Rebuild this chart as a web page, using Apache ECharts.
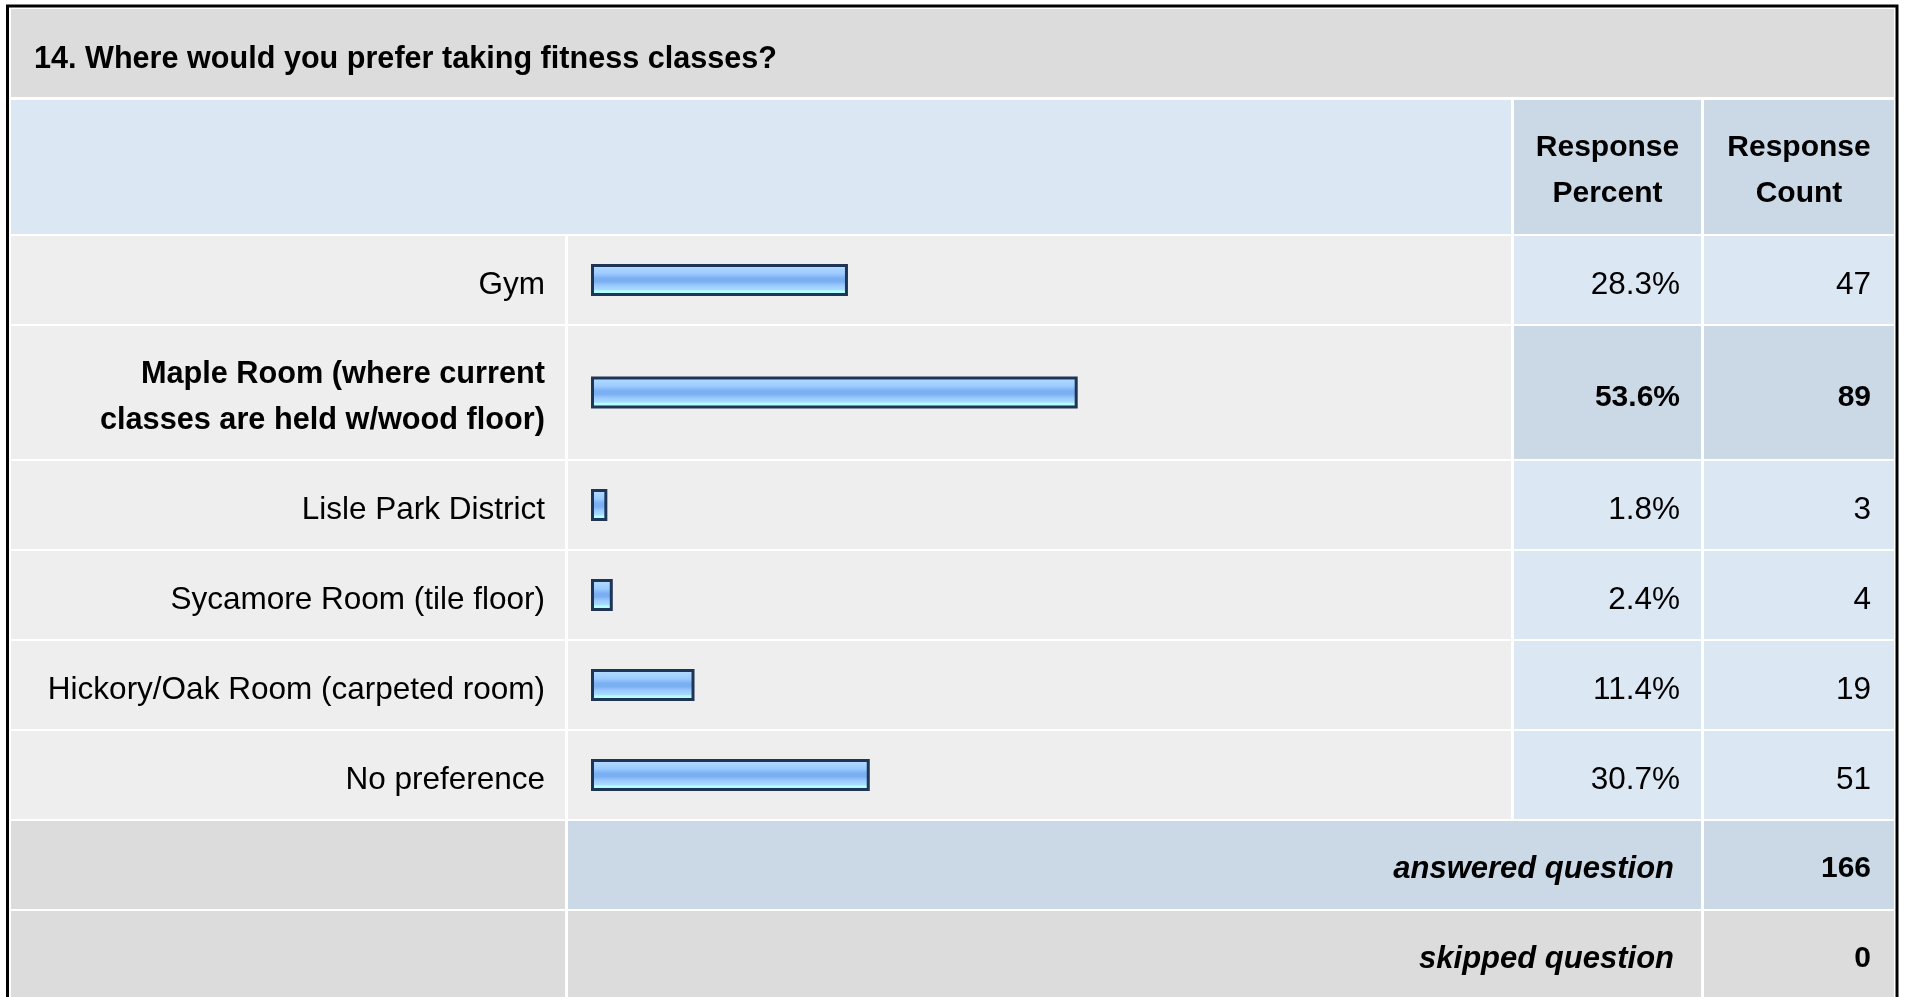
<!DOCTYPE html>
<html>
<head>
<meta charset="utf-8">
<title>Where would you prefer taking fitness classes?</title>
<script src="https://cdn.jsdelivr.net/npm/echarts@6/dist/echarts.min.js"></script>
<style>
  html, body { margin: 0; padding: 0; background: #fff; }
  #chart { width: 1909px; height: 997px; }
</style>
</head>
<body>
<div id="chart"></div>
<script>
const question = '14. Where would you prefer taking fitness classes?';
const columnHeaders = ['Response\nPercent', 'Response\nCount'];
const choices = [
  'Gym',
  'Maple Room (where current classes are held w/wood floor)',
  'Lisle Park District',
  'Sycamore Room (tile floor)',
  'Hickory/Oak Room (carpeted room)',
  'No preference',
];
const responsePercent = [28.3, 53.6, 1.8, 2.4, 11.4, 30.7];
const responseCount = [47, 89, 3, 4, 19, 51];
const answeredQuestion = 166;
const skippedQuestion = 0;

// layout of the table (px)
const font = '"Liberation Sans", Arial, Helvetica, sans-serif';
const colEdges = [11, 568, 1514, 1704, 1894];
const colGap = 3;
const rowGap = 2;
const titleRow = { top: 9, height: 88 };
const headerRow = { top: 100, height: 134 };
const rowHeights = [88, 133, 88, 88, 88, 88];
const footHeight = 88;
const barLeft = 591;
const barWidth = 908;
const textDrop = 4; // text sits a little below the middle of its cell
const labelDrop = 5;

const colors = {
  grey: '#dcdcdc',
  light: '#eeeeee',
  blue: '#dce7f4',
  blueDark: '#cbd8e6',
  border: '#1f3556',
};

const maxIdx = responsePercent.indexOf(Math.max(...responsePercent));

const rowTops = [];
let y = headerRow.top + headerRow.height + rowGap;
rowHeights.forEach((h) => {
  rowTops.push(y);
  y += h + rowGap;
});
const answeredTop = y;
const skippedTop = answeredTop + footHeight + rowGap;

// wrap long choice labels the way the table cell does
const measureCtx = document.createElement('canvas').getContext('2d');
function wrapLabel(str, fontSpec, maxWidth) {
  measureCtx.font = fontSpec;
  const lines = [];
  let line = '';
  str.split(' ').forEach((w) => {
    const test = line ? line + ' ' + w : w;
    if (line && measureCtx.measureText(test).width > maxWidth) {
      lines.push(line);
      line = w;
    } else {
      line = test;
    }
  });
  lines.push(line);
  return lines.join('\n');
}

function cellX(c) {
  return colEdges[c];
}
function cellW(c, span = 1) {
  const end = colEdges[c + span];
  return end - colEdges[c] - (c + span < colEdges.length - 1 ? colGap : 0);
}
function rect(x, y, w, h, fill) {
  return {
    type: 'rect',
    silent: true,
    z: -10,
    shape: { x, y, width: w, height: h },
    style: { fill },
  };
}
function text(str, x, y, opts = {}) {
  return {
    type: 'text',
    silent: true,
    x,
    y: y + textDrop,
    style: {
      text: str,
      fill: '#000',
      font: `${opts.style || 'normal'} ${opts.weight || 'normal'} ${opts.size || 30}px ${font}`,
      align: opts.align || 'left',
      verticalAlign: 'middle',
      lineHeight: 46,
    },
  };
}

const barFill = new echarts.graphic.LinearGradient(0, 0, 0, 1, [
  { offset: 0, color: '#d8efff' },
  { offset: 0.12, color: '#acd7ff' },
  { offset: 0.3, color: '#9ccbff' },
  { offset: 0.45, color: '#7aaff2' },
  { offset: 0.55, color: '#7aaff2' },
  { offset: 0.68, color: '#9ccbff' },
  { offset: 0.8, color: '#a8dcff' },
  { offset: 0.84, color: '#b2ffff' },
  { offset: 1, color: '#b2ffff' },
]);

// cell backgrounds
const graphics = [
  rect(cellX(0), titleRow.top, cellW(0, 4), titleRow.height, colors.grey),
  rect(cellX(0), headerRow.top, cellW(0, 2), headerRow.height, colors.blue),
  rect(cellX(2), headerRow.top, cellW(2), headerRow.height, colors.blueDark),
  rect(cellX(3), headerRow.top, cellW(3), headerRow.height, colors.blueDark),
];
rowTops.forEach((top, i) => {
  const h = rowHeights[i];
  const numFill = i === maxIdx ? colors.blueDark : colors.blue;
  graphics.push(
    rect(cellX(0), top, cellW(0), h, colors.light),
    rect(cellX(1), top, cellW(1), h, colors.light),
    rect(cellX(2), top, cellW(2), h, numFill),
    rect(cellX(3), top, cellW(3), h, numFill)
  );
});
graphics.push(
  rect(cellX(0), answeredTop, cellW(0), footHeight, colors.grey),
  rect(cellX(1), answeredTop, cellW(1, 2), footHeight, colors.blueDark),
  rect(cellX(3), answeredTop, cellW(3), footHeight, colors.blueDark),
  rect(cellX(0), skippedTop, cellW(0), footHeight, colors.grey),
  rect(cellX(1), skippedTop, cellW(1, 2), footHeight, colors.grey),
  rect(cellX(3), skippedTop, cellW(3), footHeight, colors.grey)
);
// outer frame
graphics.push({
  type: 'rect',
  silent: true,
  z: 10,
  shape: { x: 7.5, y: 6, width: 1889.5, height: 1010 },
  style: { fill: null, stroke: '#000', lineWidth: 3 },
});
// title, headers and footer
graphics.push(
  text(question, 34, titleRow.top + titleRow.height / 2 + 3, { weight: 'bold', size: 30.6 }),
  text(columnHeaders[0], cellX(2) + cellW(2) / 2, headerRow.top + headerRow.height / 2, { weight: 'bold', align: 'center' }),
  text(columnHeaders[1], cellX(3) + cellW(3) / 2, headerRow.top + headerRow.height / 2, { weight: 'bold', align: 'center' }),
  text('answered question', 1674, answeredTop + footHeight / 2, { weight: 'bold', style: 'italic', align: 'right', size: 31 }),
  text(String(answeredQuestion), 1871, answeredTop + footHeight / 2, { weight: 'bold', align: 'right' }),
  text('skipped question', 1674, skippedTop + footHeight / 2, { weight: 'bold', style: 'italic', align: 'right', size: 31 }),
  text(String(skippedQuestion), 1871, skippedTop + footHeight / 2, { weight: 'bold', align: 'right' })
);

// two grids per table row: one holds the bar, the other (a few px lower) the row's texts
const grids = [];
const xAxes = [];
const yAxes = [];
const series = [];
const hiddenAxis = { axisLine: { show: false }, axisTick: { show: false }, splitLine: { show: false } };

choices.forEach((name, i) => {
  const isMax = i === maxIdx;
  const weight = isMax ? 'bold' : 'normal';
  const labelSize = isMax ? 30.7 : 31.5;
  const numSize = isMax ? 30 : 31.5;
  const base = { color: '#000', fontFamily: font, fontWeight: weight };
  const wrapped = wrapLabel(name, `normal ${weight} ${labelSize}px ${font}`, 515);
  const barGrid = grids.length;
  const textGrid = barGrid + 1;

  grids.push(
    { left: barLeft, width: barWidth, top: rowTops[i], height: rowHeights[i], outerBoundsMode: 'none' },
    { left: barLeft, width: barWidth, top: rowTops[i] + labelDrop, height: rowHeights[i], outerBoundsMode: 'none' }
  );
  xAxes.push(
    { type: 'value', gridIndex: barGrid, min: 0, max: 100, show: false },
    { type: 'value', gridIndex: textGrid, min: 0, max: 100, show: false }
  );
  const barAxis = yAxes.length;
  yAxes.push(
    { type: 'category', gridIndex: barGrid, data: [name], show: false },
    {
      type: 'category',
      gridIndex: textGrid,
      data: [name],
      ...hiddenAxis,
      axisLabel: { ...base, fontSize: labelSize, margin: 46, lineHeight: 46, formatter: () => wrapped },
    },
    {
      type: 'category',
      gridIndex: textGrid,
      position: 'right',
      data: [name],
      ...hiddenAxis,
      axisLabel: {
        ...base,
        fontSize: numSize,
        align: 'right',
        margin: 1680 - barLeft - barWidth,
        formatter: () => responsePercent[i].toFixed(1) + '%',
      },
    },
    {
      type: 'category',
      gridIndex: textGrid,
      position: 'right',
      data: [name],
      ...hiddenAxis,
      axisLabel: {
        ...base,
        fontSize: numSize,
        align: 'right',
        margin: 1871 - barLeft - barWidth,
        formatter: () => String(responseCount[i]),
      },
    }
  );
  series.push({
    type: 'bar',
    xAxisIndex: barGrid,
    yAxisIndex: barAxis,
    data: [responsePercent[i]],
    barWidth: 32,
    silent: true,
    itemStyle: { color: barFill, borderColor: colors.border, borderWidth: 3 },
  });
});

const chart = echarts.init(document.getElementById('chart'), null, { renderer: 'canvas' });
chart.setOption({
  animation: false,
  backgroundColor: '#fff',
  textStyle: { fontFamily: font },
  grid: grids,
  xAxis: xAxes,
  yAxis: yAxes,
  series,
  graphic: graphics,
});
</script>
</body>
</html>
